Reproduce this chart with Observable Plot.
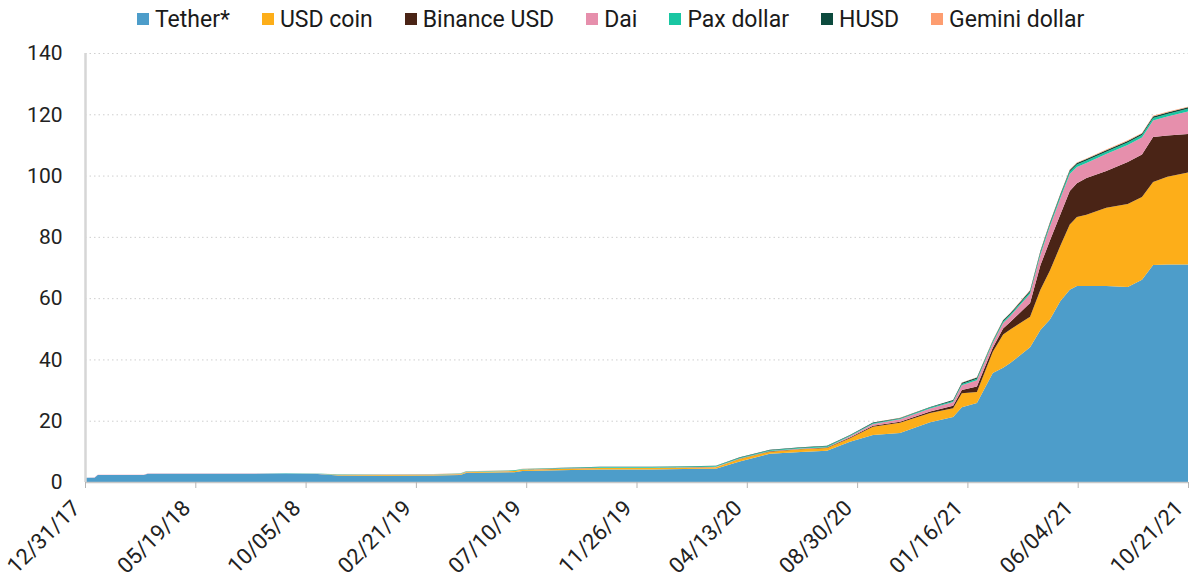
<!DOCTYPE html>
<html><head><meta charset="utf-8">
<script src="https://cdn.jsdelivr.net/npm/d3@7"></script>
<script src="https://cdn.jsdelivr.net/npm/@observablehq/plot@0.6"></script>
<style>
body{margin:0;background:#fff;font-family:Roboto,sans-serif;}
#legend{display:flex;height:35px;box-sizing:border-box;padding-top:3px;align-items:center;padding-left:137px;font-size:23px;color:#1a1a1a;}
.item{display:flex;align-items:center;margin-right:32px;}
.sw{width:12px;height:12px;margin-right:6px;}
</style></head><body>
<div id="legend"></div><div id="chart"></div>
<script>
const seriesNames = ["Tether*","USD coin","Binance USD","Dai","Pax dollar","HUSD","Gemini dollar"];
const seriesColors = ["#4d9dca","#fdae19","#4a2416","#e68fac","#19c6a2","#0c4a3d","#fd9d70"];
const xTicks = ["2017-12-31","2018-05-19","2018-10-05","2019-02-21","2019-07-10","2019-11-26","2020-04-13","2020-08-30","2021-01-16","2021-06-04","2021-10-21"];
const yTicks = [0,20,40,60,80,100,120,140];

const dates = ["2017-12-31","2018-01-12","2018-01-16","2018-03-15","2018-03-20","2018-06-15","2018-09-10","2018-10-20","2018-11-15","2019-01-15","2019-03-15","2019-04-18","2019-04-25","2019-06-25","2019-07-05","2019-09-05","2019-10-11","2019-12-15","2020-02-15","2020-03-05","2020-04-04","2020-05-12","2020-06-20","2020-07-23","2020-08-21","2020-09-19","2020-10-23","2020-11-30","2020-12-29","2021-01-09","2021-01-28","2021-02-17","2021-03-02","2021-03-11","2021-04-05","2021-04-18","2021-04-30","2021-05-13","2021-05-25","2021-06-03","2021-06-15","2021-07-10","2021-08-06","2021-08-24","2021-09-07","2021-09-25","2021-10-21"];
const tether = [1.35,1.4,2.3,2.3,2.7,2.7,2.75,2.6,2.1,2.0,2.1,2.3,2.9,3.2,3.6,3.9,4.1,4.1,4.3,4.3,6.7,9.2,9.8,10.2,13.1,15.3,16.0,19.5,21.2,24.4,25.8,35.6,37.3,38.8,44.0,49.6,53.0,59.0,62.7,64.0,64.0,64.0,63.6,66.0,70.8,71.0,71.0];
const usdCoin = [0,0,0,0,0,0,0,0.05,0.15,0.25,0.25,0.27,0.3,0.35,0.4,0.45,0.45,0.45,0.45,0.5,0.8,0.7,0.85,0.9,1.2,2.7,3.3,3.0,2.9,4.6,3.6,6.9,10.8,11.0,9.9,13.1,16.0,18.0,21.3,22.5,23.2,25.5,27.1,27.0,27.1,28.6,30.0];
const binanceUsd = [0,0,0,0,0,0,0,0,0,0,0,0,0,0,0,0.02,0.03,0.03,0.04,0.05,0.1,0.12,0.13,0.15,0.2,0.35,0.4,0.5,0.8,1.0,1.8,1.3,2.0,2.4,4.5,8.0,9.8,10.2,11.0,11.0,12.0,12.0,13.7,13.9,14.7,13.5,12.6];
const dai = [0.03,0.04,0.05,0.05,0.05,0.06,0.06,0.06,0.07,0.08,0.08,0.08,0.08,0.08,0.08,0.09,0.08,0.08,0.1,0.1,0.1,0.1,0.12,0.13,0.4,0.6,0.8,1.0,1.2,1.6,2.0,1.6,1.8,2.0,3.0,3.5,4.7,5.3,5.5,5.3,4.9,5.5,5.6,5.5,5.4,6.2,7.3];
const paxDollar = [0,0,0,0,0,0,0.02,0.05,0.12,0.15,0.13,0.13,0.15,0.18,0.2,0.2,0.23,0.23,0.24,0.25,0.25,0.25,0.25,0.25,0.25,0.25,0.25,0.3,0.35,0.4,0.5,0.5,0.5,0.5,0.6,0.7,0.7,0.8,0.8,0.8,0.8,0.8,0.8,0.8,0.8,0.8,0.9];
const husd = [0,0,0,0,0,0,0,0,0,0,0,0,0,0,0,0.05,0.07,0.1,0.12,0.13,0.15,0.15,0.17,0.18,0.18,0.2,0.15,0.15,0.3,0.4,0.4,0.3,0.35,0.35,0.5,0.5,0.5,0.5,0.5,0.5,0.5,0.5,0.5,0.5,0.5,0.5,0.5];
const geminiDollar = [0,0,0,0,0,0,0,0.02,0.05,0.08,0.06,0.05,0.05,0.05,0.05,0.02,0.01,0.01,0.01,0.01,0.01,0.01,0.01,0.01,0.02,0.05,0.05,0.05,0.05,0.1,0.1,0.1,0.1,0.1,0.15,0.15,0.15,0.2,0.2,0.2,0.2,0.2,0.2,0.2,0.2,0.2,0.2];

const seriesValues = [tether, usdCoin, binanceUsd, dai, paxDollar, husd, geminiDollar];
const tidy = [];
seriesNames.forEach((name, i) => {
  dates.forEach((d, j) => tidy.push({date: new Date(d), series: name, value: seriesValues[i][j]}));
});

// legend
const legend = document.getElementById("legend");
seriesNames.forEach((n, i) => {
  const it = document.createElement("div"); it.className = "item";
  const sw = document.createElement("div"); sw.className = "sw"; sw.style.background = seriesColors[i];
  const tx = document.createElement("span"); tx.textContent = n;
  it.appendChild(sw); it.appendChild(tx); legend.appendChild(it);
});

const xStart = new Date(xTicks[0]);
const chart = Plot.plot({
  width: 1191, height: 547,
  marginLeft: 85, marginRight: 3, marginTop: 18, marginBottom: 100,
  style: {fontFamily: "Roboto, sans-serif", fontSize: "21px", color: "#222", background: "#fff"},
  x: {type: "utc", domain: [xStart, new Date(xTicks[xTicks.length - 1])]},
  y: {domain: [0, 140]},
  color: {domain: seriesNames, range: seriesColors},
  marks: [
    Plot.gridY(yTicks.filter(d => d > 0), {stroke: "#cfcfcf", strokeOpacity: 1, strokeDasharray: "1.5,3"}),
    Plot.areaY(tidy, Plot.stackY({x: "date", y: "value", z: "series", fill: "series", order: seriesNames})),
    Plot.ruleX([xStart], {y1: 0, y2: 140, stroke: "#d6d6d6", strokeWidth: 2.5}),
    Plot.ruleY([0], {stroke: "#c8c8c8", strokeWidth: 1.5}),
    Plot.axisY({ticks: yTicks, tickSize: 0, tickPadding: 23, label: null, fontSize: 21}),
    Plot.axisX({ticks: xTicks.map(d => new Date(d)), tickFormat: () => "", tickSize: 6, stroke: "#b5b5b5", label: null}),
    Plot.text(xTicks, {x: d => new Date(d), y: 0, text: d => d3.utcFormat("%m/%d/%y")(new Date(d)), rotate: -45, textAnchor: "end", lineAnchor: "bottom", fontSize: 22, fill: "#222", dx: -4, dy: 27})
  ]
});
document.getElementById("chart").appendChild(chart);
</script>
</body></html>
